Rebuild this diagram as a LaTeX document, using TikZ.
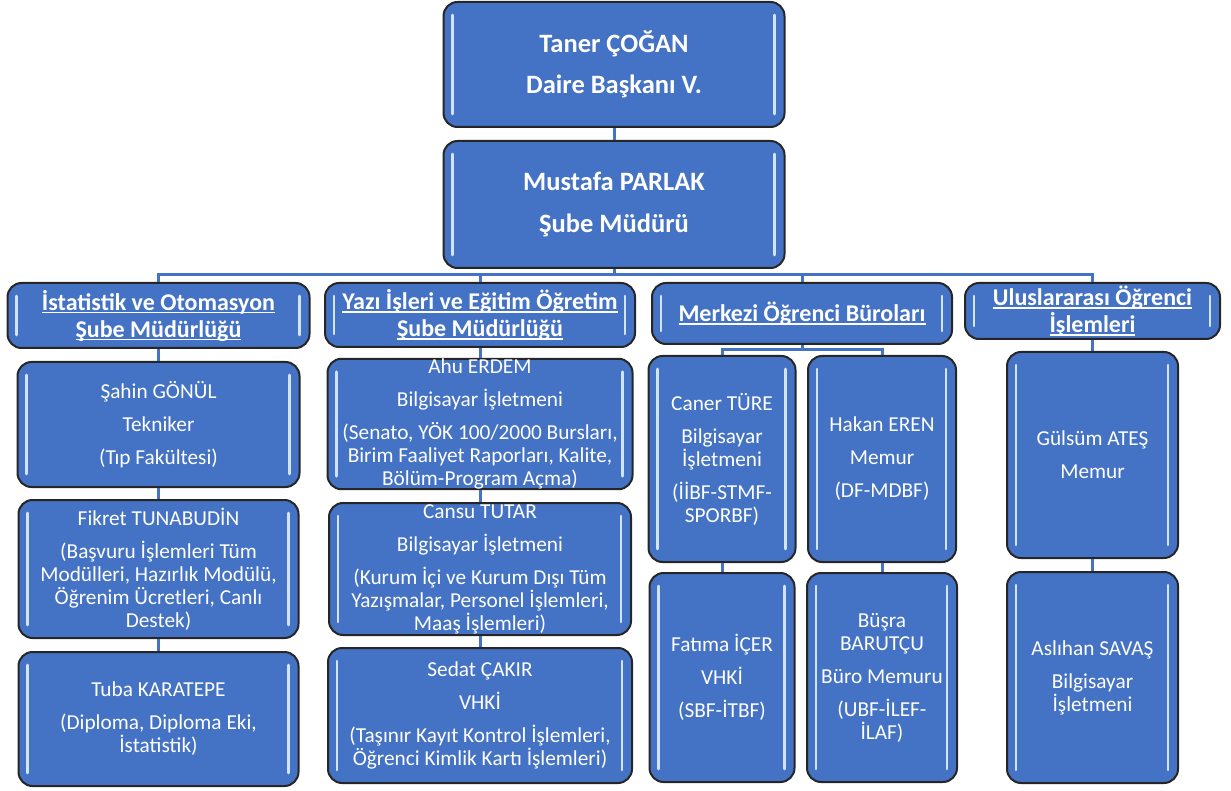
\documentclass[tikz,border=0pt]{standalone}
\usepackage{fontspec}
\setmainfont{Carlito}
\usepackage{tikz}

\definecolor{boxblue}{HTML}{4472C4}
\definecolor{glintblue}{HTML}{D2E4FA}
\newcommand{\undertext}[1]{\setbox0=\hbox{#1}\rlap{\rule[-3.4pt]{\wd0}{1.5pt}}\box0}

\begin{document}
\begin{tikzpicture}[x=1pt, y=-1pt,
    box_node/.style={draw=black!85, line width=2pt, fill=boxblue, rounded corners=14pt,
        text=white, align=center, inner sep=0pt,
        path picture={
            \draw[glintblue, line width=2.6pt, line cap=round]
                ([xshift=9pt,yshift=-13pt]path picture bounding box.north west) -- ([xshift=9pt,yshift=13pt]path picture bounding box.south west);
            \draw[glintblue, line width=2.6pt, line cap=round]
                ([xshift=-10pt,yshift=-13pt]path picture bounding box.north east) -- ([xshift=-10pt,yshift=13pt]path picture bounding box.south east);}},
    head_node/.style={box_node, font=\fontsize{26.5}{41.5}\selectfont\bfseries},
    unit_node/.style={box_node, font=\fontsize{24}{27}\selectfont\bfseries},
    person_node/.style={box_node, font=\fontsize{21.3}{23}\selectfont},
    link/.style={boxblue, line width=3pt}]
    \useasboundingbox (0,0) rectangle (1231,791);

    % top of the chart
    \node[head_node, minimum width=341, minimum height=125] (1) at (614,64.5) {Taner ÇOĞAN\\Daire Başkanı V.};
    \node[head_node, minimum width=341, minimum height=127] (2) at (614,204.5) {Mustafa PARLAK\\Şube Müdürü};

    % units
    \node[unit_node, minimum width=302, minimum height=65] (3) at (158.5,315.5) {\undertext{İstatistik ve Otomasyon}\\\undertext{Şube Müdürlüğü}};
    \node[unit_node, minimum width=310, minimum height=64] (4) at (480,315) {\undertext{Yazı İşleri ve Eğitim Öğretim}\\\undertext{Şube Müdürlüğü}};
    \node[unit_node, minimum width=300, minimum height=61] (5) at (802,313.5) {\undertext{Merkezi Öğrenci Büroları}};
    \node[unit_node, minimum width=255, minimum height=56] (6) at (1092.5,311) {\undertext{Uluslararası Öğrenci}\\\undertext{İşlemleri}};

    % staff
    \node[person_node, minimum width=282, minimum height=125] (7) at (158.5,424.5) {Şahin GÖNÜL\\[10pt]Tekniker\\[10pt](Tıp Fakültesi)};
    \node[person_node, minimum width=280, minimum height=138] (8) at (158.5,569) {Fikret TUNABUDİN\\[10pt](Başvuru İşlemleri Tüm\\Modülleri, Hazırlık Modülü,\\Öğrenim Ücretleri, Canlı\\Destek)};
    \node[person_node, minimum width=280, minimum height=134] (9) at (158.5,719) {Tuba KARATEPE\\[10pt](Diploma, Diploma Eki,\\İstatistik)};

    \node[person_node, minimum width=305, minimum height=128] (10) at (480,424) {Ahu ERDEM\\[10pt]Bilgisayar İşletmeni\\[10pt](Senato, YÖK 100/2000 Bursları,\\Birim Faaliyet Raporları, Kalite,\\Bölüm-Program Açma)};
    \node[person_node, minimum width=302, minimum height=132] (11) at (480,569) {Cansu TUTAR\\[10pt]Bilgisayar İşletmeni\\[10pt](Kurum İçi ve Kurum Dışı Tüm\\Yazışmalar, Personel İşlemleri,\\Maaş İşlemleri)};
    \node[person_node, minimum width=304, minimum height=135] (12) at (480,715.5) {Sedat ÇAKIR\\[10pt]VHKİ\\[10pt](Taşınır Kayıt Kontrol İşlemleri,\\Öğrenci Kimlik Kartı İşlemleri)};

    \node[person_node, minimum width=147, minimum height=206] (13) at (722,459) {Caner TÜRE\\[10pt]Bilgisayar\\İşletmeni\\[10pt](İİBF-STMF-\\SPORBF)};
    \node[person_node, minimum width=145, minimum height=209] (14) at (722,677.5) {Fatıma İÇER\\[10pt]VHKİ\\[10pt](SBF-İTBF)};
    \node[person_node, minimum width=148, minimum height=206] (15) at (882,459) {Hakan EREN\\[10pt]Memur\\[10pt](DF-MDBF)};
    \node[person_node, minimum width=150, minimum height=209] (16) at (882,677.5) {Büşra\\BARUTÇU\\[10pt]Büro Memuru\\[10pt](UBF-İLEF-\\İLAF)};

    \node[person_node, minimum width=171, minimum height=206] (17) at (1092.5,455) {Gülsüm ATEŞ\\[10pt]Memur};
    \node[person_node, minimum width=171, minimum height=211] (18) at (1092.5,677.5) {Aslıhan SAVAŞ\\[10pt]Bilgisayar\\İşletmeni};

    % connectors
    \coordinate (bus) at (614,275);
    \coordinate (fork) at (802,350);
    \draw[link] (1) -- (2);
    \foreach \n in {3,...,6}
        \draw[link] (2.south) -- (bus) -| (\n.north);
    \draw[link] (3) -- (7) -- (8) -- (9);
    \draw[link] (4) -- (10) -- (11) -- (12);
    \foreach \n in {13,15}
        \draw[link] (5.south) -- (fork) -| (\n.north);
    \draw[link] (13) -- (14);
    \draw[link] (15) -- (16);
    \draw[link] (6) -- (17) -- (18);
\end{tikzpicture}
\end{document}
